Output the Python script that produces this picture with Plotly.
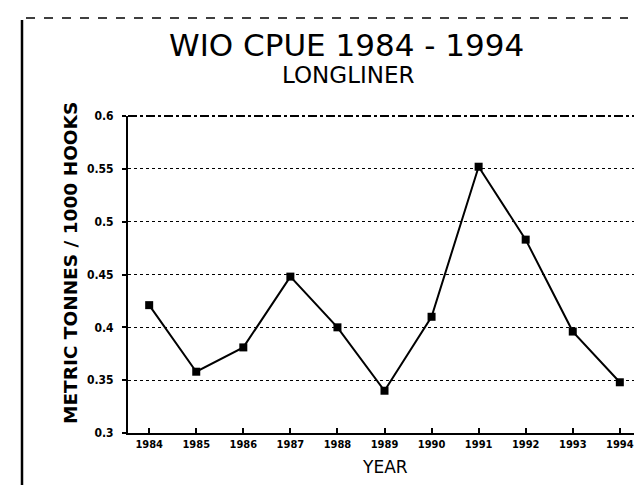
import plotly.graph_objects as go

years = [1984, 1985, 1986, 1987, 1988, 1989, 1990, 1991, 1992, 1993, 1994]
cpue = [0.421, 0.358, 0.381, 0.448, 0.400, 0.340, 0.410, 0.552, 0.483, 0.396, 0.348]
ytick_vals = [0.3, 0.35, 0.4, 0.45, 0.5, 0.55, 0.6]
ytick_text = ["0.3", "0.35", "0.4", "0.45", "0.5", "0.55", "0.6"]
title_text = "WIO CPUE 1984 - 1994"
subtitle_text = "LONGLINER"
ytitle_text = "METRIC TONNES / 1000 HOOKS"
xtitle_text = "YEAR"

W, H = 642, 485
L, R, T, B = 120, 9, 108, 60
pw, ph = W - L - R, H - T - B

def px2paper(px, py):
    return (px - L) / pw, (H - B - py) / ph

sans = "DejaVu Sans, Liberation Sans, sans-serif"
cond = "DejaVu Sans Condensed, DejaVu Sans, sans-serif"

fig = go.Figure()
fig.add_trace(go.Scatter(
    x=years, y=cpue, mode="lines+markers",
    line=dict(color="black", width=2),
    marker=dict(symbol="square", size=8, color="black"),
    showlegend=False,
))

fig.update_layout(
    width=W, height=H,
    margin=dict(l=L, r=R, t=T, b=B),
    paper_bgcolor="white", plot_bgcolor="white",
    font=dict(family=sans, color="black"),
    xaxis=dict(
        range=[1983.55, 1994.45], tickmode="array", tickvals=years,
        ticktext=[str(y) for y in years],
        showgrid=False, zeroline=False,
        showline=True, linecolor="black", linewidth=2,
        ticks="inside", ticklen=5, tickcolor="black", tickwidth=1.5,
        tickfont=dict(size=11, family=cond, weight="bold"),
    ),
    yaxis=dict(
        range=[0.3, 0.6], tickmode="array", tickvals=ytick_vals, ticktext=ytick_text,
        showgrid=True, gridcolor="black", griddash="dot", gridwidth=1,
        zeroline=False,
        showline=True, linecolor="black", linewidth=2,
        ticks="outside", ticklen=4, tickcolor="black", tickwidth=1.5,
        ticklabelstandoff=6,
        tickfont=dict(size=12, family=cond, weight="bold"),
    ),
)

annots = []
x, y = px2paper(338, 37)
annots.append(dict(text=title_text, x=x, y=y, xref="paper", yref="paper",
                   xanchor="center", yanchor="middle", showarrow=False,
                   font=dict(size=31, family=sans)))
x, y = px2paper(340, 67)
annots.append(dict(text=subtitle_text, x=x, y=y, xref="paper", yref="paper",
                   xanchor="center", yanchor="middle", showarrow=False,
                   font=dict(size=23, family=sans)))
x, y = px2paper(62, 255)
annots.append(dict(text=ytitle_text, x=x, y=y, xref="paper", yref="paper",
                   xanchor="center", yanchor="middle", showarrow=False, textangle=-90,
                   font=dict(size=18.5, family=sans, weight="bold")))
x, y = px2paper(377, 459)
annots.append(dict(text=xtitle_text, x=x, y=y, xref="paper", yref="paper",
                   xanchor="center", yanchor="middle", showarrow=False,
                   font=dict(size=17, family=sans)))
fig.update_layout(annotations=annots)

shapes = []
# dashed top and right frame of plot area
shapes.append(dict(type="line", xref="paper", yref="paper", x0=0, x1=1, y0=1, y1=1,
                   line=dict(color="black", width=2, dash="dashdot")))
shapes.append(dict(type="line", xref="paper", yref="paper", x0=1, x1=1, y0=0, y1=1,
                   line=dict(color="black", width=1.5, dash="dot")))
# page border artifacts from the scan
x0, y0 = px2paper(14, 12)
x1, y1 = px2paper(14, 485)
shapes.append(dict(type="line", xref="paper", yref="paper", x0=x0, x1=x1, y0=y0, y1=y1,
                   line=dict(color="black", width=2.5)))
x0, y0 = px2paper(18, 10)
x1, y1 = px2paper(620, 10)
shapes.append(dict(type="line", xref="paper", yref="paper", x0=x0, x1=x1, y0=y0, y1=y1,
                   line=dict(color="black", width=1.5, dash="dash")))
fig.update_layout(shapes=shapes)

fig.write_html("out.html")
